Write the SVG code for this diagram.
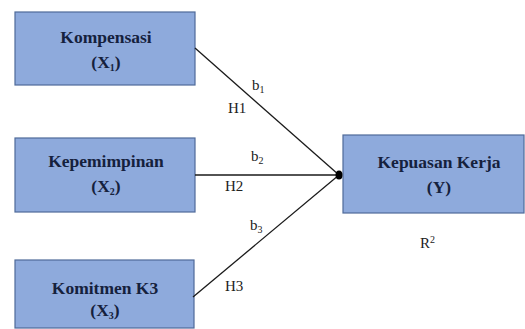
<svg xmlns="http://www.w3.org/2000/svg" width="525" height="329" viewBox="0 0 525 329">
<style>
.box{fill:#8eaadc;stroke:#4f6a99;stroke-width:1.2}
.t{font-weight:bold;font-size:17.5px;fill:#15213d;text-anchor:middle}
.l{font-size:15px;fill:#222}
.s{font-size:10px}
.c{stroke:#1a1a1a;stroke-width:1.3;fill:none}
</style>
<rect width="525" height="329" fill="#fff"/>
<g font-family="Liberation Serif, DejaVu Serif, serif">
<g id="n1"><rect class="box" x="15" y="12" width="180" height="73"/><text class="t" x="106" y="43">Kompensasi</text><text class="t" x="106" y="68">(X<tspan class="s" dy="3">1</tspan><tspan dy="-3">)</tspan></text></g>
<g id="n2"><rect class="box" x="15" y="138" width="180" height="74"/><text class="t" x="106" y="167">Kepemimpinan</text><text class="t" x="106" y="192">(X<tspan class="s" dy="3">2</tspan><tspan dy="-3">)</tspan></text></g>
<g id="n3"><rect class="box" x="15" y="260" width="179" height="68"/><text class="t" x="105" y="294">Komitmen K3</text><text class="t" x="105" y="316">(X<tspan class="s" dy="3">3</tspan><tspan dy="-3">)</tspan></text></g>
<g id="n4"><rect class="box" x="343" y="135" width="181" height="78"/><text class="t" x="439" y="168">Kepuasan Kerja</text><text class="t" x="439" y="193">(Y)</text></g>
<g id="connectors">
<line class="c" x1="195" y1="48" x2="339" y2="175"/>
<line class="c" x1="195" y1="175" x2="339" y2="175"/>
<line class="c" x1="193" y1="297" x2="339" y2="175"/>
<ellipse cx="339" cy="175" rx="3.5" ry="4.5" fill="#000"/>
</g>
<g id="labels">
<text class="l" x="252" y="90">b<tspan class="s" dy="3">1</tspan></text>
<text class="l" x="228" y="113">H1</text>
<text class="l" x="251" y="161">b<tspan class="s" dy="3">2</tspan></text>
<text class="l" x="225" y="191">H2</text>
<text class="l" x="250" y="230">b<tspan class="s" dy="3">3</tspan></text>
<text class="l" x="225" y="291">H3</text>
<text class="l" x="420" y="248">R<tspan class="s" dy="-5">2</tspan></text>
</g>
</g>
</svg>
